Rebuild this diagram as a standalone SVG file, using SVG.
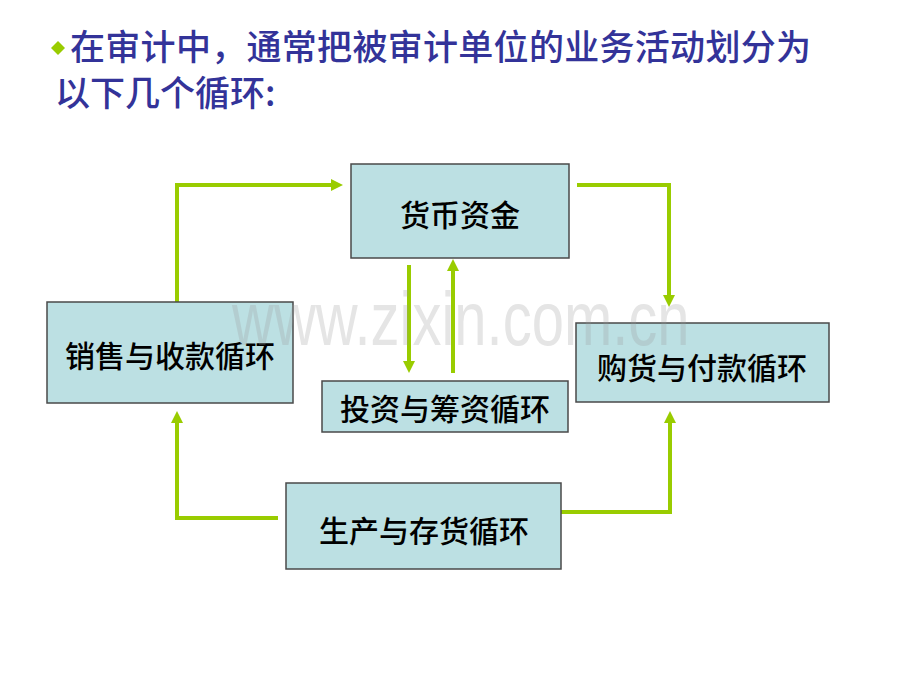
<svg xmlns="http://www.w3.org/2000/svg" width="920" height="690" viewBox="0 0 920 690">
<defs>
<style>
.title{font-family:"Noto Sans CJK SC","Noto Sans",sans-serif;font-size:35px;font-weight:500;fill:#333399;}
.box{fill:#BCE0E3;stroke:#4a4a4a;stroke-width:1.5;}
.lbl{font-family:"Noto Sans CJK SC","Noto Sans",sans-serif;font-size:30px;font-weight:500;fill:#000;text-anchor:middle;dominant-baseline:central;}
.conn{fill:none;stroke:#99CC00;stroke-width:4;}
.wm{font-family:"Liberation Sans",Arial,sans-serif;font-size:58px;fill:#999999;opacity:0.25;}
</style>
<marker id="ah" markerUnits="userSpaceOnUse" markerWidth="12" markerHeight="12" viewBox="0 0 12 12" refX="2" refY="6" orient="auto">
<path d="M0,0 L12,6 L0,12 Z" fill="#99CC00"/>
</marker>
</defs>
<rect width="920" height="690" fill="#ffffff"/>
<g id="title">
<polygon points="58,41 65,48 58,55 51,48" fill="#99CC00"/>
<text class="title" x="70" y="60" textLength="741" lengthAdjust="spacing">在审计中，通常把被审计单位的业务活动划分为</text>
<text class="title" x="55" y="106">以下几个循环:</text>
</g>
<g id="connectors">
<path class="conn" d="M177,308 V185 H333" marker-end="url(#ah)"/>
<path class="conn" d="M577,185 H669 V297" marker-end="url(#ah)"/>
<path class="conn" d="M409,265 V363" marker-end="url(#ah)"/>
<path class="conn" d="M453,373 V269" marker-end="url(#ah)"/>
<path class="conn" d="M278,518 H177 V421" marker-end="url(#ah)"/>
<path class="conn" d="M561,512 H670 V421" marker-end="url(#ah)"/>
</g>
<g id="node-cash">
<rect class="box" x="351" y="164" width="218" height="94"/>
<text class="lbl" x="460" y="213">货币资金</text>
</g>
<g id="node-sales">
<rect class="box" x="47" y="302" width="246" height="101"/>
<text class="lbl" x="170" y="354">销售与收款循环</text>
</g>
<g id="node-purchase">
<rect class="box" x="576" y="323" width="253" height="79"/>
<text class="lbl" x="702" y="366">购货与付款循环</text>
</g>
<g id="node-invest">
<rect class="box" x="322" y="381" width="246" height="51"/>
<text class="lbl" x="445" y="407">投资与筹资循环</text>
</g>
<g id="node-production">
<rect class="box" x="286" y="483" width="275" height="86"/>
<text class="lbl" x="424" y="529">生产与存货循环</text>
</g>
<g id="watermark">
<text class="wm" transform="translate(232,345) scale(1,1.3)" x="0" y="0">www.zixin.com.cn</text>
</g>
</svg>
